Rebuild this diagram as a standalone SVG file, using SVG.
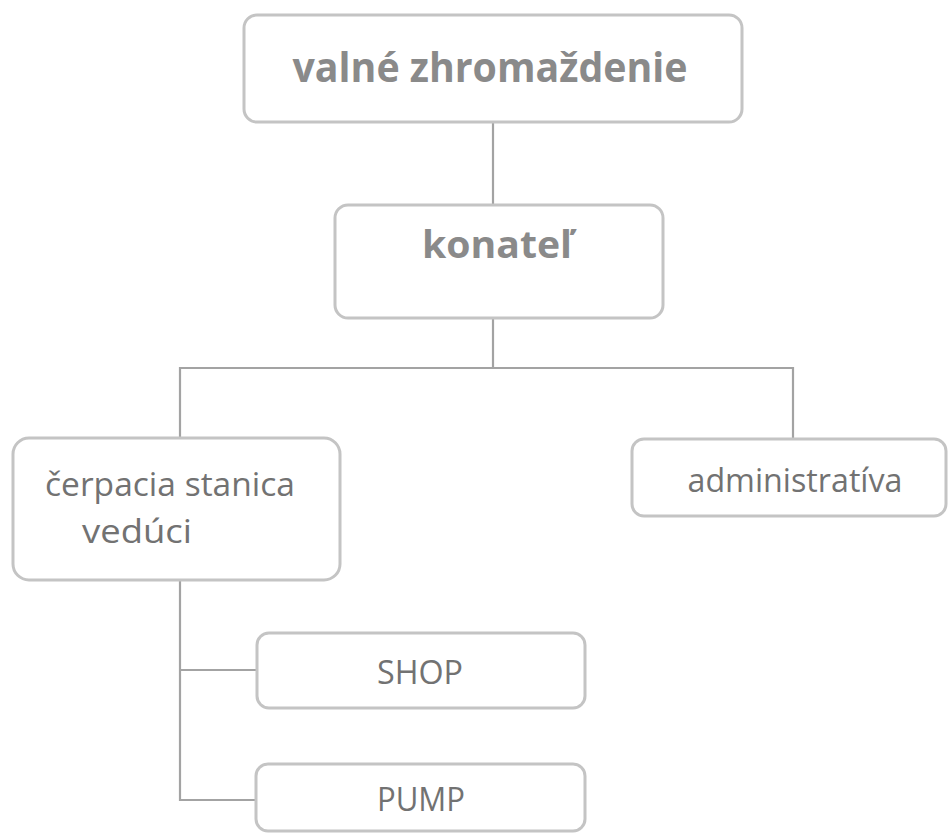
<svg xmlns="http://www.w3.org/2000/svg" width="948" height="833" viewBox="0 0 948 833">
<style>
.box{fill:#ffffff;stroke:#c4c4c4;stroke-width:3}
.conn{fill:none;stroke:#a3a3a3;stroke-width:2.2}
.tb{font-family:"Open Sans","Liberation Sans",sans-serif;font-weight:bold;fill:#8a8a8a;text-anchor:middle}
.tr{font-family:"Open Sans","Liberation Sans",sans-serif;fill:#727272;text-anchor:middle}
</style>
<rect width="948" height="833" fill="#ffffff"/>
<g id="connectors">
<path class="conn" d="M493 122 V205"/>
<path class="conn" d="M493 318 V368"/>
<path class="conn" d="M180 438 V368 H793 V438"/>
<path class="conn" d="M180 580 V800 H255"/>
<path class="conn" d="M180 670 H256"/>
</g>
<g id="valne-zhromazdenie">
<rect class="box" x="244" y="15" width="498" height="107" rx="13"/>
<text class="tb" x="490" y="82" font-size="42" textLength="395" lengthAdjust="spacingAndGlyphs">valné zhromaždenie</text>
</g>
<g id="konatel">
<rect class="box" x="335" y="205" width="328" height="113" rx="13"/>
<text class="tb" x="497" y="258" font-size="38" textLength="150" lengthAdjust="spacingAndGlyphs">konateľ</text>
</g>
<g id="cerpacia-stanica">
<rect class="box" x="13" y="438" width="327" height="142" rx="16"/>
<text class="tr" x="170" y="496" font-size="32" textLength="250" lengthAdjust="spacingAndGlyphs">čerpacia stanica</text>
<text class="tr" x="137" y="543" font-size="32" textLength="110" lengthAdjust="spacingAndGlyphs">vedúci</text>
</g>
<g id="administrativa">
<rect class="box" x="632" y="439" width="314" height="77" rx="12"/>
<text class="tr" x="795" y="492" font-size="32" textLength="215" lengthAdjust="spacingAndGlyphs">administratíva</text>
</g>
<g id="shop">
<rect class="box" x="257" y="633" width="328" height="75" rx="12"/>
<text class="tr" x="420" y="684" font-size="32" textLength="86" lengthAdjust="spacingAndGlyphs">SHOP</text>
</g>
<g id="pump">
<rect class="box" x="256" y="764" width="329" height="67" rx="12"/>
<text class="tr" x="421" y="811" font-size="32" textLength="88" lengthAdjust="spacingAndGlyphs">PUMP</text>
</g>
</svg>
